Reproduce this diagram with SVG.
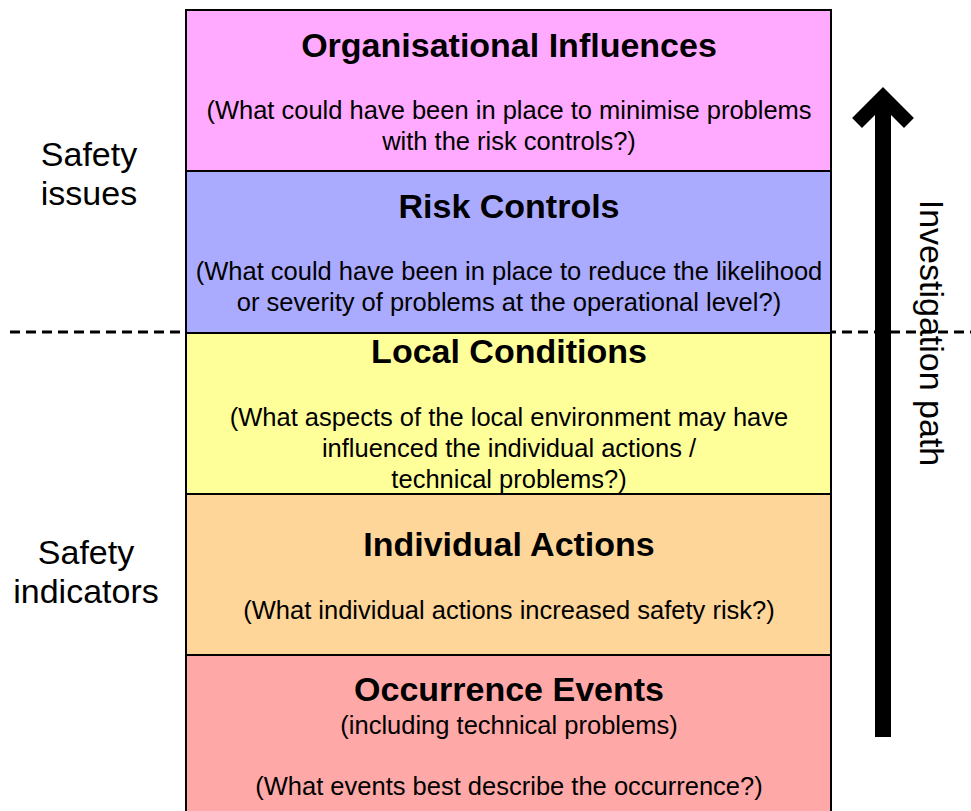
<svg xmlns="http://www.w3.org/2000/svg" width="971" height="811" viewBox="0 0 971 811">
<style>
.box{stroke:#000;stroke-width:2}
.t{font-family:"Liberation Sans",Arial,sans-serif;font-weight:bold;font-size:34px;text-anchor:middle;fill:#000}
.s{font-family:"Liberation Sans",Arial,sans-serif;font-size:25.5px;text-anchor:middle;fill:#000}
.l{font-family:"Liberation Sans",Arial,sans-serif;font-size:34px;text-anchor:middle;fill:#000}
</style>
<rect width="971" height="811" fill="#fff"/>
<g id="connectors">
<line x1="10" y1="332" x2="971" y2="332" stroke="#000" stroke-width="3" stroke-dasharray="10,6"/>
</g>
<g id="org">
<rect class="box" x="186" y="10" width="645" height="161" fill="#ffaaff"/>
<text class="t" x="509" y="57">Organisational Influences</text>
<text class="s" x="509" y="119">(What could have been in place to minimise problems</text>
<text class="s" x="509" y="150">with the risk controls?)</text>
</g>
<g id="risk">
<rect class="box" x="186" y="171" width="645" height="162" fill="#aaaaff"/>
<text class="t" x="509" y="218">Risk Controls</text>
<text class="s" x="509" y="280">(What could have been in place to reduce the likelihood</text>
<text class="s" x="509" y="311">or severity of problems at the operational level?)</text>
</g>
<g id="local">
<rect class="box" x="186" y="333" width="645" height="161" fill="#ffff99"/>
<text class="t" x="509" y="363">Local Conditions</text>
<text class="s" x="509" y="426">(What aspects of the local environment may have</text>
<text class="s" x="509" y="457">influenced the individual actions /</text>
<text class="s" x="509" y="488">technical problems?)</text>
</g>
<g id="individual">
<rect class="box" x="186" y="494" width="645" height="161" fill="#ffd699"/>
<text class="t" x="509" y="556">Individual Actions</text>
<text class="s" x="509" y="619">(What individual actions increased safety risk?)</text>
</g>
<g id="occurrence">
<rect class="box" x="186" y="655" width="645" height="170" fill="#ffa8a8"/>
<text class="t" x="509" y="701">Occurrence Events</text>
<text class="s" x="509" y="734">(including technical problems)</text>
<text class="s" x="509" y="795">(What events best describe the occurrence?)</text>
</g>
<g id="safety-issues">
<text class="l" x="89" y="166">Safety</text>
<text class="l" x="89" y="205">issues</text>
</g>
<g id="safety-indicators">
<text class="l" x="86" y="564">Safety</text>
<text class="l" x="86" y="603">indicators</text>
</g>
<g id="investigation-path">
<line x1="883" y1="737" x2="883" y2="96" stroke="#000" stroke-width="16"/>
<polyline points="862,118 883,97 904,118" fill="none" stroke="#000" stroke-width="14" stroke-linecap="square"/>
<text class="l" transform="translate(920,333) rotate(90)">Investigation path</text>
</g>
</svg>
